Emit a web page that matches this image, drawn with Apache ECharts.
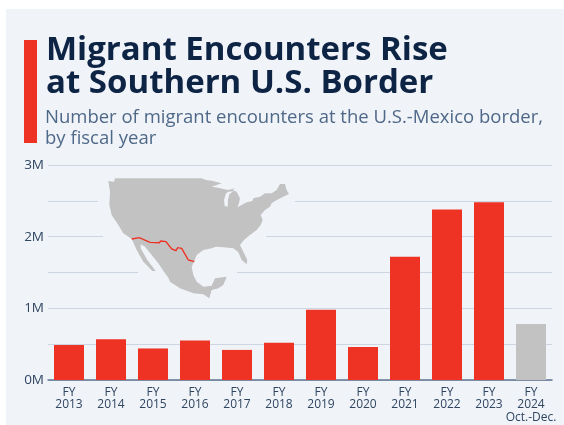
<!DOCTYPE html>
<html>
<head>
<meta charset="utf-8">
<style>html,body{margin:0;padding:0;background:#fff}#chart{width:564px;height:425px}</style>
<script src="https://cdn.jsdelivr.net/npm/echarts@6/dist/echarts.min.js"></script>
</head>
<body>
<div id="chart"></div>
<script>
// Fiscal-year labels and encounter counts, in millions
const categories = ['FY\n2013','FY\n2014','FY\n2015','FY\n2016','FY\n2017','FY\n2018','FY\n2019','FY\n2020','FY\n2021','FY\n2022','FY\n2023','FY\n2024\nOct.-Dec.'];
const encounters = [0.49,0.57,0.44,0.55,0.42,0.52,0.98,0.46,1.72,2.38,2.48,0.78];
const partialYears = ['FY\n2024\nOct.-Dec.'];

const RED = '#ee3224', GREY = '#c2c2c2', PANEL = '#f0f4f9', NAVY = '#0e2445', SLATE = '#4f6888', INK = '#2f4560';

// North America inset, traced on a 3x grid and placed by toInset
const toInset = pts => pts.map(p => [90 + p[0] / 3, 165 + p[1] / 3]);
const landOutline = [[55,48],[72,50],[75,40],[335,40],[348,45],[365,47],[395,55],[365,65],[385,68],[400,72],[415,75],[435,70],[428,76],[440,80],[445,90],[450,100],[447,115],[442,127],[470,112],[487,108],[490,100],[510,95],[525,85],[545,85],[560,75],[570,57],[585,57],[590,75],[597,87],[580,95],[560,105],[545,115],[540,125],[525,135],[512,150],[518,165],[512,180],[500,195],[480,210],[462,225],[450,240],[460,260],[472,285],[470,298],[455,285],[445,262],[430,250],[400,247],[378,245],[365,250],[340,255],[320,270],[312,290],[305,305],[310,330],[320,350],[340,365],[365,362],[375,340],[410,335],[400,360],[385,370],[365,375],[358,400],[340,388],[310,385],[270,370],[240,350],[236,340],[222,320],[205,295],[185,270],[165,245],[152,238],[152,250],[172,285],[197,318],[187,318],[160,290],[140,255],[125,222],[100,205],[85,180],[65,150],[58,120],[60,80]];
const lakeMichigan = [[408,85],[416,80],[430,79],[418,88],[414,105],[413,125],[404,123],[402,105]];
const borderLine = [[125,222],[148,218],[180,232],[208,233],[212,228],[228,230],[245,252],[258,257],[263,248],[275,250],[295,285],[313,290]];
// Breaks in the gridlines around the inset: [left, right, y]
const gridBreaks = [[98,295,201],[103,266,237],[138,237,273]];

const graphics = [
  { type:'rect', z:-1, shape:{x:6,y:9,width:558,height:416}, style:{fill:PANEL} },
  { type:'rect', z:5, shape:{x:24,y:40,width:13,height:103}, style:{fill:RED} },
  ...gridBreaks.map(b => ({ type:'rect', z:5, shape:{x:b[0],y:b[2]-3,width:b[1]-b[0],height:6}, style:{fill:PANEL} })),
  { type:'polygon', z:6, shape:{points:toInset(landOutline)}, style:{fill:GREY} },
  { type:'polygon', z:7, shape:{points:toInset(lakeMichigan)}, style:{fill:PANEL} },
  { type:'polyline', z:8, shape:{points:toInset(borderLine)}, style:{stroke:RED,lineWidth:1.4,fill:null} },
  { type:'text', z:9, x:46, y:34, style:{text:'Migrant Encounters Rise\nat Southern U.S. Border', font:'700 33px "Open Sans"', lineHeight:33, fill:NAVY} },
  { type:'text', z:9, x:45, y:107, style:{text:'Number of migrant encounters at the U.S.-Mexico border,\nby fiscal year', font:'400 18.5px "Open Sans"', lineHeight:21, fill:SLATE} }
];

const chart = echarts.init(document.getElementById('chart'), null, {renderer:'canvas'});
chart.setOption({
  animation:false,
  textStyle:{fontFamily:'"Open Sans"'},
  graphic:graphics,
  grid:{left:48,right:12,top:165,height:215},
  xAxis:{
    type:'category', data:categories,
    axisTick:{show:false},
    axisLine:{lineStyle:{color:'#5f7390',width:1.5}},
    axisLabel:{color:INK,fontSize:12,lineHeight:12.5,margin:6,interval:0}
  },
  yAxis:{
    type:'value', min:0, max:3, interval:0.5,
    axisLine:{show:false}, axisTick:{show:false},
    splitLine:{lineStyle:{color:'#cdd5e3',width:1}},
    axisLabel:{color:INK,fontSize:13.5,margin:4,
      formatter:v => Number.isInteger(v) ? v + 'M' : ''}
  },
  series:[{
    type:'bar', barWidth:30,
    data:encounters.map((v,i) => ({
      value:v,
      itemStyle:{color:partialYears.includes(categories[i]) ? GREY : RED}
    }))
  }]
});
</script>
</body>
</html>
